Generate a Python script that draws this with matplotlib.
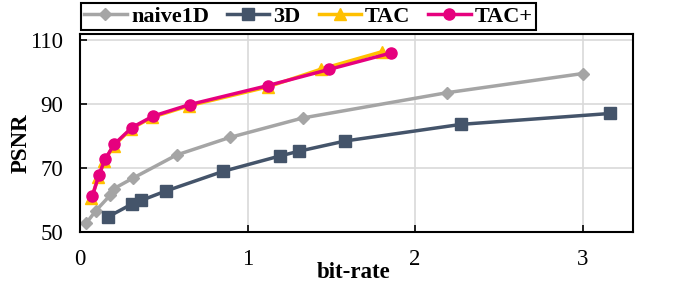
import matplotlib
matplotlib.use('Agg')
import matplotlib.pyplot as plt

# values
naive_x = [0.036, 0.095, 0.18, 0.20, 0.314, 0.576, 0.894, 1.33, 2.19, 3.0]
naive_y = [52.7, 56.7, 61.5, 63.5, 66.8, 74.1, 79.6, 85.7, 93.6, 99.6]

d3_x = [0.169, 0.308, 0.366, 0.511, 0.855, 1.193, 1.308, 1.584, 2.276, 3.164]
d3_y = [54.8, 58.7, 59.9, 62.8, 69.0, 73.8, 75.3, 78.5, 83.7, 87.1]

tac_x = [0.068, 0.11, 0.145, 0.20, 0.305, 0.43, 0.65, 1.12, 1.44, 1.80]
tac_y = [60.6, 67.2, 72.1, 76.9, 82.3, 85.9, 89.5, 95.4, 101.0, 106.4]

tacp_x = [0.074, 0.113, 0.149, 0.203, 0.31, 0.437, 0.656, 1.119, 1.487, 1.854]
tacp_y = [61.3, 67.9, 72.7, 77.4, 82.7, 86.3, 89.9, 95.8, 100.9, 106.0]

xticks = [0, 1, 2, 3]
yticks = [50, 70, 90, 110]

plt.rcParams['font.family'] = ['Liberation Serif', 'DejaVu Serif']

fig = plt.figure(figsize=(6.81, 2.85), dpi=100)
ax = fig.add_axes([0.1175, 0.186, 0.812, 0.695])

ax.plot(naive_x, naive_y, color='#A5A5A5', lw=2.5, marker='D', ms=6.5, label='naive1D')
ax.plot(d3_x, d3_y, color='#44546A', lw=2.5, marker='s', ms=8, label='3D')
ax.plot(tac_x, tac_y, color='#FFC000', lw=2.5, marker='^', ms=8, label='TAC')
ax.plot(tacp_x, tacp_y, color='#E6007E', lw=2.5, marker='o', ms=8, label='TAC+')

ax.set_xlim(0, 3.3)
ax.set_ylim(50, 112)
ax.set_xticks(xticks)
ax.set_yticks(yticks)
ax.grid(True, color='#D9D9D9', lw=1.2)
ax.set_axisbelow(True)
ax.tick_params(direction='in', labelsize=16.5, length=5, width=1.2, pad=12)
for s in ax.spines.values():
    s.set_linewidth(1.5)

ax.set_xlabel('bit-rate', fontsize=16.5, fontweight='bold')
ax.set_ylabel('PSNR', fontsize=16.5, fontweight='bold')
ax.xaxis.set_label_coords(0.494, -0.15)
ax.yaxis.set_label_coords(-0.088, 0.447)

leg = fig.legend(loc='upper left', bbox_to_anchor=(0.119, 0.99), ncol=4,
                 prop={'size': 16, 'weight': 'bold'}, fancybox=False,
                 edgecolor='black', framealpha=1, handlelength=1.9,
                 columnspacing=0.8, handletextpad=0.2, borderpad=0.15,
                 borderaxespad=0)
leg.get_frame().set_linewidth(1.5)

fig.savefig('out.png', dpi=100)
